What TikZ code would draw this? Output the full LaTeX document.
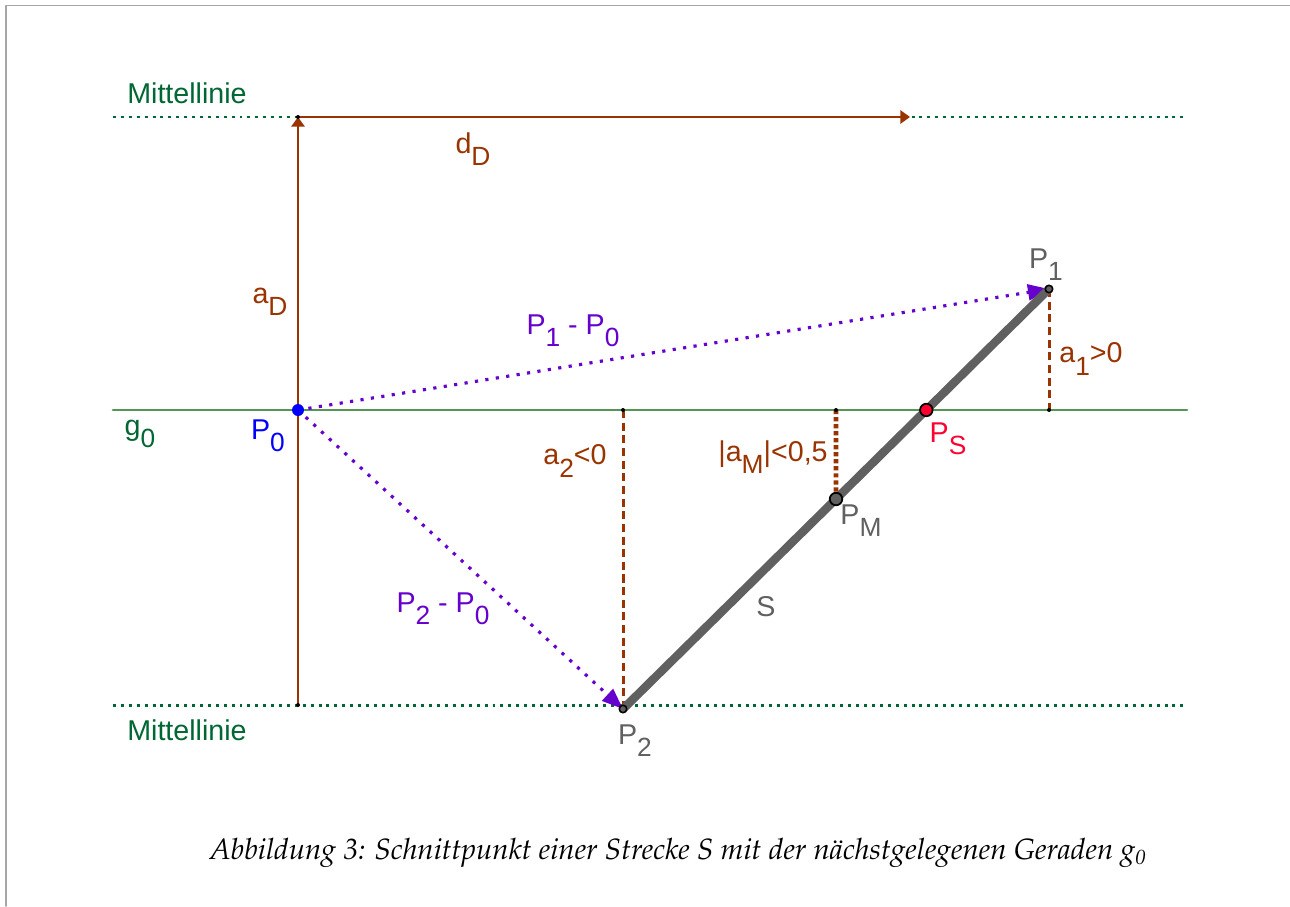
\documentclass[tikz,border=0pt]{standalone}
\usepackage[T1]{fontenc}
\usepackage{fontspec}
\setmainfont{Liberation Sans}
\usetikzlibrary{arrows.meta,calc}

\definecolor{ggbrown}{RGB}{153,51,0}
\definecolor{ggpurple}{RGB}{102,0,204}
\definecolor{ggtext}{RGB}{0,102,51}
\definecolor{ggline}{RGB}{85,150,85}
\definecolor{gggray}{RGB}{96,96,96}
\definecolor{ggred}{RGB}{255,0,51}

\newcommand{\lsub}[1]{\raisebox{-0.42em}{\scalebox{0.92}{#1}}}
\newcommand{\capfont}{\fontencoding{T1}\fontfamily{ppl}\fontshape{it}\fontsize{16.7}{20}\selectfont}

\tikzset{
  mittel/.style={ggtext, line width=1.7pt, line cap=butt, dash pattern=on 1.7pt off 2.8pt},
  vecline/.style={ggpurple, line width=1.8pt, line cap=butt, dash pattern=on 1.8pt off 4.2pt,
    -{Triangle[length=12pt,width=9pt]}},
  distline/.style={ggbrown, line width=1.7pt, line cap=butt, dash pattern=on 4.6pt off 2.6pt},
  halfline/.style={ggbrown, line width=2.6pt, line cap=butt, dash pattern=on 2.4pt off 1.6pt},
  dimline/.style={ggbrown, line width=1.6pt, -{Triangle[length=5.5pt,width=7.5pt]}},
  footdot/.style={circle, fill=black, inner sep=0pt, minimum size=0.08cm},
  enddot/.style={circle, draw=black, fill=gggray, line width=0.9pt, inner sep=0pt, minimum size=0.15cm},
}

\begin{document}
\begin{tikzpicture}[x=0.02cm,y=-0.02cm,line cap=round,line join=round,
  every node/.style={font=\fontsize{16.3}{19}\selectfont, inner sep=0pt}]
  \useasboundingbox (0,0) rectangle (1290,906);

  % Page frame (left and top edge)
  \draw[gray!70, line width=0.9pt] (6,906) -- (6,5.5) -- (1290,5.5);

  % Points of the construction
  \coordinate (P0) at (298,410);
  \coordinate (P1) at (1049,289);
  \coordinate (P2) at (623,709);
  \coordinate (PM) at ($(P1)!0.5!(P2)$);
  \coordinate (PS) at ($(P2)!0.712!(P1)$);
  \coordinate (MO) at (298,117);
  \coordinate (MU) at (298,705);
  \coordinate (DD) at (910,117);
  \coordinate (F1) at (1049,410);
  \coordinate (F2) at (623,410);
  \coordinate (F2u) at (623,705);
  \coordinate (FM) at (836,410);

  % Centre lines and line g0
  \coordinate (MOl) at (113,117); \coordinate (MOr) at (1187,117);
  \coordinate (MUl) at (113,705); \coordinate (MUr) at (1187,705);
  \coordinate (Gl) at (113,410);  \coordinate (Gr) at (1187,410);
  \draw[mittel] (MOl) -- (MOr);
  \draw[mittel] (MUl) -- (MUr);
  \draw[ggline, line width=1.5pt] (Gl) -- (Gr);

  % Distance a_D and direction d_D
  \draw[dimline] (MU) -- (MO);
  \draw[dimline] (MO) -- (DD);

  % Distances of the end points and the midpoint
  \draw[distline] (P1) -- (F1);
  \draw[distline] (F2) -- (F2u);
  \draw[halfline] (FM) -- (PM);

  % Difference vectors
  \draw[vecline] (P0) -- (P1);
  \draw[vecline] (P0) -- (P2);

  % Segment S
  \draw[gggray, line width=4.8pt, line cap=butt] (P2) -- (P1);

  % Point markers
  \foreach \p in {MO,MU,F1,F2,FM}{
    \node[footdot] (\p dot) at (\p) {};
  }
  \node[enddot] (P1dot) at (P1) {};
  \node[enddot] (P2dot) at (P2) {};
  \node[circle, fill=blue, minimum size=0.24cm] (P0dot) at (P0) {};
  \node[circle, draw=black, fill=ggred, line width=1pt, minimum size=0.25cm] (PSdot) at (PS) {};
  \node[circle, draw=black, fill=gggray, line width=1pt, minimum size=0.25cm] (PMdot) at (PM) {};

  % Labels
  \node[text=ggtext] (lblMO) at (187,93) {Mittellinie};
  \node[text=ggtext] (lblMU) at (187,730) {Mittellinie};
  \node[text=ggtext] (lblg) at (140,434) {g\lsub{0}};
  \node[text=blue] (lblP0) at (268,436) {P\lsub{0}};
  \node[text=ggbrown] (lbldD) at (473,149) {d\lsub{D}};
  \node[text=ggbrown] (lblaD) at (270,302) {a\lsub{D}};
  \node[text=ggpurple] (lblv1) at (573,331) {P\lsub{1} - P\lsub{0}};
  \node[text=ggpurple] (lblv2) at (443,609) {P\lsub{2} - P\lsub{0}};
  \node[text=ggbrown] (lbla1) at (1091,359) {a\lsub{1}>0};
  \node[text=ggbrown] (lbla2) at (575,461) {a\lsub{2}<0};
  \node[text=ggbrown] (lblaM) at (773,457) {|a\lsub{M}|<0,5};
  \node[text=gggray] (lblP1) at (1046,265) {P\lsub{1}};
  \node[text=gggray] (lblP2) at (635,741) {P\lsub{2}};
  \node[text=gggray] (lblPM) at (861,521) {P\lsub{M}};
  \node[text=ggred] (lblPS) at (948,439) {P\lsub{S}};
  \node[text=gggray] (lblS) at (766,607) {S};

  % Caption
  \node (caption) at (678,853) {\capfont Abbildung 3: Schnittpunkt einer Strecke S mit der n\"achstgelegenen Geraden g\textsubscript{0}};
\end{tikzpicture}
\end{document}
